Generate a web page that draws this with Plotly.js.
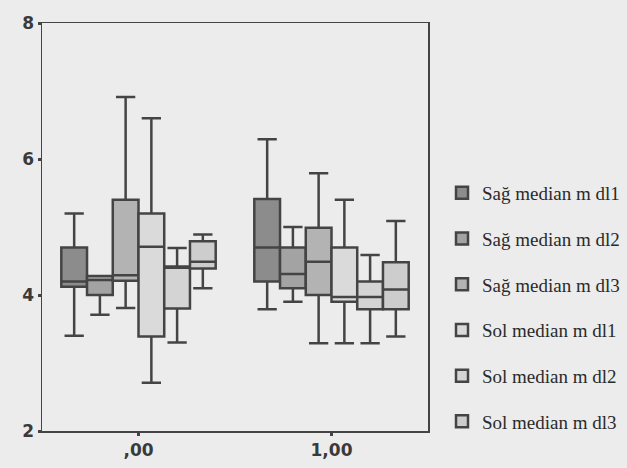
<!DOCTYPE html>
<html>
<head>
<meta charset="utf-8">
<script src="https://cdn.plot.ly/plotly-3.0.1.min.js"></script>
<style>html,body{margin:0;padding:0;background:#ececec;}#chart{width:627px;height:468px;}</style>
</head>
<body>
<div id="chart"></div>
<script>
// Category positions and tick labels
const categories = [0, 1];
const tickLabels = [',00', '1,00'];

// Series names
const seriesNames = ['Sağ median m dl1', 'Sağ median m dl2', 'Sağ median m dl3',
                     'Sol median m dl1', 'Sol median m dl2', 'Sol median m dl3'];

// Box statistics per series: [group ,00, group 1,00]
const sagDl1Low = [3.40, 3.79], sagDl1Q1 = [4.12, 4.20], sagDl1Med = [4.20, 4.70], sagDl1Q3 = [4.70, 5.41], sagDl1High = [5.20, 6.29];
const sagDl2Low = [3.71, 3.90], sagDl2Q1 = [4.00, 4.10], sagDl2Med = [4.22, 4.31], sagDl2Q3 = [4.28, 4.70], sagDl2High = [4.28, 5.00];
const sagDl3Low = [3.81, 3.29], sagDl3Q1 = [4.21, 4.00], sagDl3Med = [4.29, 4.49], sagDl3Q3 = [5.40, 4.99], sagDl3High = [6.91, 5.79];
const solDl1Low = [2.71, 3.29], solDl1Q1 = [3.39, 3.90], solDl1Med = [4.71, 3.97], solDl1Q3 = [5.20, 4.70], solDl1High = [6.60, 5.40];
const solDl2Low = [3.30, 3.29], solDl2Q1 = [3.80, 3.79], solDl2Med = [4.40, 3.97], solDl2Q3 = [4.42, 4.20], solDl2High = [4.69, 4.59];
const solDl3Low = [4.10, 3.39], solDl3Q1 = [4.39, 3.79], solDl3Med = [4.49, 4.08], solDl3Q3 = [4.79, 4.48], solDl3High = [4.89, 5.09];

const stats = [
  [sagDl1Low, sagDl1Q1, sagDl1Med, sagDl1Q3, sagDl1High],
  [sagDl2Low, sagDl2Q1, sagDl2Med, sagDl2Q3, sagDl2High],
  [sagDl3Low, sagDl3Q1, sagDl3Med, sagDl3Q3, sagDl3High],
  [solDl1Low, solDl1Q1, solDl1Med, solDl1Q3, solDl1High],
  [solDl2Low, solDl2Q1, solDl2Med, solDl2Q3, solDl2High],
  [solDl3Low, solDl3Q1, solDl3Med, solDl3Q3, solDl3High]
];
const fills = ['#8c8c8c', '#a3a3a3', '#b3b3b3', '#dadada', '#d4d4d4', '#cdcdcd'];

const traces = stats.map((s, i) => ({
  type: 'box',
  name: seriesNames[i],
  x: categories,
  lowerfence: s[0], q1: s[1], median: s[2], q3: s[3], upperfence: s[4],
  fillcolor: fills[i],
  line: {color: '#444', width: 2.5},
  whiskerwidth: 0.75,
  boxpoints: false,
  legendgroup: 'g' + i,
  hoverinfo: 'skip'
}));

const layout = {
  width: 627, height: 468,
  margin: {l: 42, r: 199, t: 23, b: 37},
  paper_bgcolor: '#ececec',
  plot_bgcolor: '#ececec',
  boxmode: 'group',
  boxgap: 0.2,
  boxgroupgap: 0,
  showlegend: true,
  legend: {
    x: 442 / 627, xref: 'container', xanchor: 'left',
    y: 1 - 174 / 468, yref: 'container', yanchor: 'top',
    bgcolor: 'rgba(0,0,0,0)',
    font: {family: 'Liberation Serif, Times New Roman, serif', size: 19, color: '#2a2a2a'},
    tracegroupgap: 18,
    maxheight: 294,
    itemclick: false
  },
  xaxis: {
    range: [-0.5, 1.5],
    tickmode: 'array', tickvals: categories, ticktext: tickLabels,
    ticks: 'outside', ticklen: 3, tickwidth: 3, tickcolor: '#444',
    showgrid: false, zeroline: false,
    showline: true, linecolor: '#444', linewidth: 1.5, mirror: true,
    tickfont: {family: 'DejaVu Sans, sans-serif', size: 17, color: '#3a3a3a', weight: 'bold'}
  },
  yaxis: {
    range: [2, 8],
    tickvals: [2, 4, 6, 8],
    ticks: 'outside', ticklen: 3, tickwidth: 3, tickcolor: '#444',
    showgrid: false, zeroline: false,
    showline: true, linecolor: '#444', linewidth: 1.5, mirror: true,
    tickfont: {family: 'DejaVu Sans, sans-serif', size: 17, color: '#3a3a3a', weight: 'bold'}
  }
};

Plotly.newPlot('chart', traces, layout, {staticPlot: true, displayModeBar: false});
</script>
</body>
</html>
